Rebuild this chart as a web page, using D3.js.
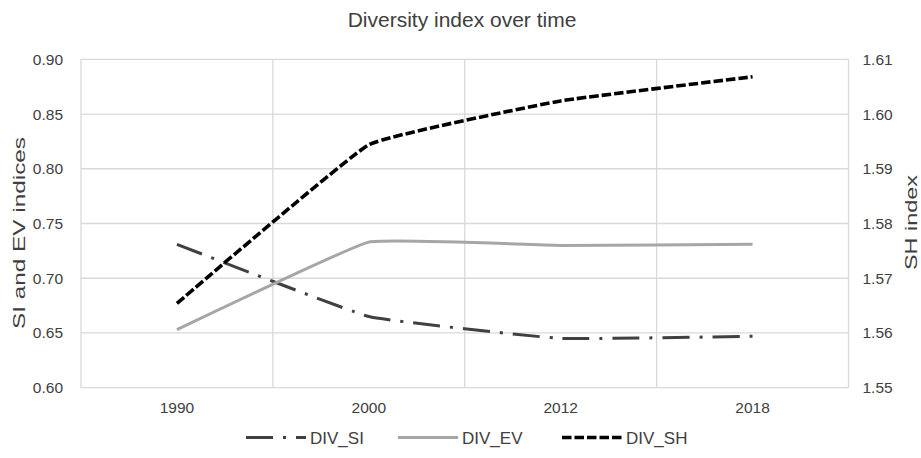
<!DOCTYPE html>
<html>
<head>
<meta charset="utf-8">
<script src="https://cdn.jsdelivr.net/npm/d3@7"></script>
<style>
  html, body { margin: 0; padding: 0; background: #fff; }
  svg { display: block; font-family: "Liberation Sans", Arial, sans-serif; }
</style>
</head>
<body>
<svg id="chart" width="921" height="458"></svg>
<script>
// Survey years (category axis)
const years = ["1990", "2000", "2012", "2018"];

// Simpson (SI) and evenness (EV) indices, left axis
const divSI = [0.731, 0.665, 0.645, 0.647];
const divEV = [0.653, 0.733, 0.730, 0.731];

// Shannon (SH) index, right axis
const divSH = [1.5654, 1.5944, 1.6024, 1.6068];

// Axis ticks
const leftTicks = [0.60, 0.65, 0.70, 0.75, 0.80, 0.85, 0.90];
const rightTicks = [1.55, 1.56, 1.57, 1.58, 1.59, 1.60, 1.61];

const svg = d3.select("#chart");
const textColor = "#404040";
const gridColor = "#d9d9d9";

const plot = { left: 81, right: 848.5, top: 59.3, bottom: 387.7 };

const x = d3.scaleBand().domain(years).range([plot.left, plot.right]).paddingInner(0).paddingOuter(0);
const yL = d3.scaleLinear().domain([0.60, 0.90]).range([plot.bottom, plot.top]);
const yR = d3.scaleLinear().domain([1.55, 1.61]).range([plot.bottom, plot.top]);

// Horizontal gridlines
svg.append("g")
  .selectAll("line")
  .data(leftTicks)
  .join("line")
  .attr("x1", plot.left).attr("x2", plot.right)
  .attr("y1", d => yL(d)).attr("y2", d => yL(d))
  .attr("stroke", gridColor).attr("stroke-width", 1.3);

// Vertical gridlines at category boundaries
const bounds = years.map(d => x(d)).concat([plot.right]);
svg.append("g")
  .selectAll("line")
  .data(bounds)
  .join("line")
  .attr("x1", d => d).attr("x2", d => d)
  .attr("y1", plot.top).attr("y2", plot.bottom)
  .attr("stroke", gridColor).attr("stroke-width", 1.3);

const styleTicks = g => g.selectAll("text")
  .attr("fill", textColor)
  .style("font-size", "15.5px")
  .style("font-family", "Liberation Sans, Arial, sans-serif");

// Left axis labels
svg.append("g")
  .attr("transform", `translate(${plot.left},0)`)
  .call(d3.axisLeft(yL).tickValues(leftTicks).tickFormat(d3.format(".2f")).tickSize(0).tickPadding(18))
  .call(g => g.select(".domain").remove())
  .call(styleTicks);

// Right axis labels
svg.append("g")
  .attr("transform", `translate(${plot.right},0)`)
  .call(d3.axisRight(yR).tickValues(rightTicks).tickFormat(d3.format(".2f")).tickSize(0).tickPadding(14))
  .call(g => g.select(".domain").remove())
  .call(styleTicks);

// Category labels
svg.append("g")
  .attr("transform", `translate(0,${plot.bottom})`)
  .call(d3.axisBottom(x).tickSize(0).tickPadding(14))
  .call(g => g.select(".domain").remove())
  .call(styleTicks);

// Series lines (lightly smoothed)
const cx = d => x(d) + x.bandwidth() / 2;
const series = [
  { name: "DIV_SI", values: divSI, scale: yL, color: "#404040", width: 3, dash: "27,10,3,10" },
  { name: "DIV_EV", values: divEV, scale: yL, color: "#a6a6a6", width: 3, dash: null },
  { name: "DIV_SH", values: divSH, scale: yR, color: "#000000", width: 3.6, dash: "9.5,3" }
];

series.forEach(s => {
  const line = d3.line()
    .x((d, i) => cx(years[i]))
    .y(d => s.scale(d))
    .curve(d3.curveCardinal.tension(0.72));
  svg.append("path")
    .datum(s.values)
    .attr("d", line)
    .attr("fill", "none")
    .attr("stroke", s.color)
    .attr("stroke-width", s.width)
    .attr("stroke-dasharray", s.dash)
    .attr("stroke-linejoin", "round");
});

// Title
svg.append("text")
  .attr("x", 462).attr("y", 27)
  .attr("text-anchor", "middle")
  .attr("fill", textColor)
  .style("font-size", "21px")
  .text("Diversity index over time");

// Axis titles
svg.append("text")
  .attr("transform", "translate(25,233) rotate(-90)")
  .attr("text-anchor", "middle")
  .attr("fill", textColor)
  .attr("textLength", 192)
  .attr("lengthAdjust", "spacingAndGlyphs")
  .style("font-size", "17px")
  .text("SI and EV indices");

svg.append("text")
  .attr("transform", "translate(917,222.5) rotate(-90)")
  .attr("text-anchor", "middle")
  .attr("fill", textColor)
  .attr("textLength", 95)
  .attr("lengthAdjust", "spacingAndGlyphs")
  .style("font-size", "17px")
  .text("SH index");

// Legend
const legendX = [246, 398, 562];
const legendY = 437.5;
const legend = svg.append("g");
series.forEach((s, i) => {
  legend.append("line")
    .attr("x1", legendX[i]).attr("x2", legendX[i] + 60)
    .attr("y1", legendY).attr("y2", legendY)
    .attr("stroke", s.color)
    .attr("stroke-width", s.width)
    .attr("stroke-dasharray", s.dash);
  legend.append("text")
    .attr("x", legendX[i] + 64).attr("y", legendY + 6)
    .attr("fill", textColor)
    .style("font-size", "17px")
    .text(s.name);
});
</script>
</body>
</html>
